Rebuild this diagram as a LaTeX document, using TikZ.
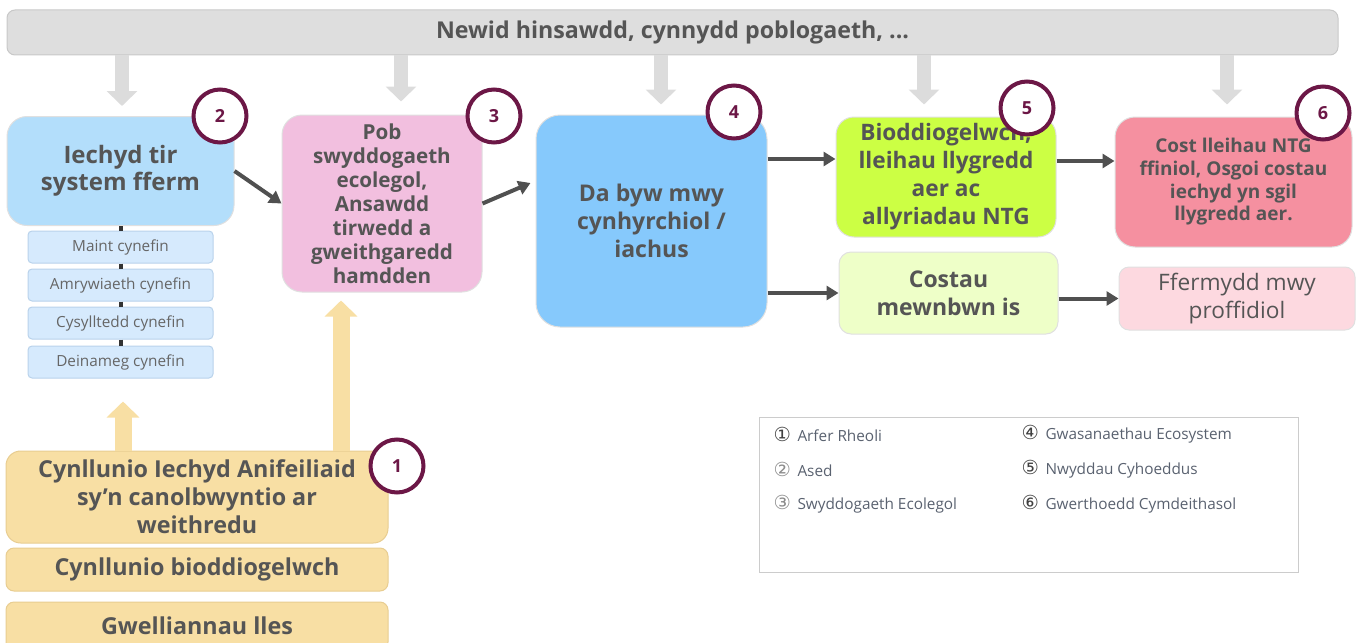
\documentclass[tikz,border=0pt]{standalone}
\usepackage{fontspec}
\setmainfont{Open Sans}
\newfontfamily\symfont{DejaVu Sans}
\usetikzlibrary{arrows.meta,calc}

\definecolor{txtgray}{RGB}{85,85,85}
\definecolor{bannerfill}{RGB}{222,222,222}
\definecolor{bannerline}{RGB}{200,200,200}
\definecolor{arrowgray}{RGB}{220,220,220}
\definecolor{connfill}{RGB}{80,80,80}
\definecolor{plum}{RGB}{108,23,70}
\definecolor{assetblue}{RGB}{179,222,251}
\definecolor{subblue}{RGB}{214,234,253}
\definecolor{subline}{RGB}{185,210,235}
\definecolor{funcpink}{RGB}{242,191,223}
\definecolor{servblue}{RGB}{134,201,252}
\definecolor{limegreen}{RGB}{204,255,68}
\definecolor{palegreen}{RGB}{238,255,200}
\definecolor{socialred}{RGB}{245,144,160}
\definecolor{palepink}{RGB}{253,217,224}
\definecolor{mgmtyellow}{RGB}{248,223,164}
\definecolor{mgmtline}{RGB}{232,205,145}
\definecolor{legtext}{RGB}{90,98,112}

\tikzset{every picture/.style={line width=0.75pt}}
\tikzset{
  box/.style={draw=black!12, text=txtgray, align=center, inner sep=0pt},
  subbox/.style={box, fill=subblue, draw=subline, rounded corners=3pt,
    minimum width=138.75pt, minimum height=24pt,
    font=\fontsize{11.5}{13}\selectfont, text=black!60},
  mgmtbox/.style={box, fill=mgmtyellow, draw=mgmtline, minimum width=286.5pt,
    font=\fontsize{17.5}{21}\selectfont\bfseries},
  numcirc/.style={circle, draw=plum, line width=3pt, fill=white, minimum size=39.75pt,
    inner sep=0pt, text=plum, font=\fontsize{13.5}{13.5}\selectfont\bfseries},
  conn/.style={draw=connfill, line width=3pt, -{Triangle[length=9pt,width=10.5pt]}},
  garrow/.style={draw=arrowgray, line width=10.5pt, -{Triangle[length=11.25pt,width=22.5pt]}},
  yarrow/.style={draw=mgmtyellow, line width=12.75pt, -{Triangle[length=12pt,width=24pt]}},
  stem/.style={draw=black!80, line width=3pt},
  legtxt/.style={anchor=west, inner sep=0pt, text=legtext, font=\fontsize{11.5}{13}\selectfont}
}
\newcommand{\lnum}[2]{{\symfont\fontsize{14.5}{14.5}\selectfont\color{#1}#2}\hspace{5pt}}

\begin{document}
\begin{tikzpicture}[x=0.75pt,y=0.75pt,yscale=-1,xscale=1]
\useasboundingbox (0,0) rectangle (1362,642);

%Top Banner
\node[box, fill=bannerfill, draw=bannerline, rounded corners=6pt, minimum width=998.25pt, minimum height=33.75pt,
  font=\fontsize{17.4}{19}\selectfont\bfseries] (banner) at (672.5,32.5) {Newid hinsawdd, cynnydd poblogaeth, ...};

%Asset
\node[box, fill=assetblue, rounded corners=15pt, minimum width=170.25pt, minimum height=81.75pt,
  font=\fontsize{18}{20.25}\selectfont\bfseries] (asset) at (120.5,171) {Iechyd tir\\system fferm};
%Habitat Boxes
\node[subbox] (maint) at (120.5,247) {Maint cynefin};
\node[subbox] (amryw) at (120.5,285) {Amrywiaeth cynefin};
\node[subbox] (cysyl) at (120.5,323) {Cysylltedd cynefin};
\node[subbox] (deinam) at (120.5,362) {Deinameg cynefin};
\draw[stem] (asset.south) -- (maint.north);
\draw[stem] (maint.south) -- (amryw.north);
\draw[stem] (amryw.south) -- (cysyl.north);
\draw[stem] (cysyl.south) -- (deinam.north);

%Ecological Function
\node[box, fill=funcpink, rounded corners=15pt, minimum width=150pt, minimum height=132.75pt,
  font=\fontsize{15.5}{18}\selectfont\bfseries] (func) at (382,203.5)
  {Pob\\swyddogaeth\\ecolegol,\\Ansawdd\\tirwedd a\\gweithgaredd\\hamdden};

%Ecosystem Service
\node[box, fill=servblue, rounded corners=18pt, minimum width=173.25pt, minimum height=159pt,
  font=\fontsize{17.25}{21}\selectfont\bfseries] (serv) at (651.5,221) {Da byw mwy\\cynhyrchiol /\\iachus};

%Public Goods
\node[box, fill=limegreen, rounded corners=13.5pt, minimum width=165pt, minimum height=90pt,
  font=\fontsize{17}{21}\selectfont\bfseries] (public) at (946,177)
  {Bioddiogelwch,\\lleihau llygredd\\aer ac\\allyriadau NTG};
\node[box, fill=palegreen, rounded corners=9pt, minimum width=164.25pt, minimum height=61.5pt,
  font=\fontsize{17.25}{21}\selectfont\bfseries] (costau) at (948.5,293) {Costau\\mewnbwn is};

%Social Values
\node[box, fill=socialred, rounded corners=15pt, minimum width=177.75pt, minimum height=97.5pt,
  font=\fontsize{14.25}{17}\selectfont\bfseries] (social) at (1233.5,182)
  {Cost lleihau NTG\\ffiniol, Osgoi costau\\iechyd yn sgil\\llygredd aer.};
\node[box, fill=palepink, rounded corners=7.5pt, minimum width=177pt, minimum height=47.25pt,
  font=\fontsize{17}{21}\selectfont] (elw) at (1237,298.5) {Ffermydd mwy\\proffidiol};

%Management
\node[mgmtbox, rounded corners=11pt, minimum height=69pt] (mgmt) at (197,497)
  {Cynllunio Iechyd Anifeiliaid\\sy’n canolbwyntio ar\\weithredu};
\node[mgmtbox, rounded corners=6pt, minimum height=32.25pt] (biosec) at (197,569.5) {Cynllunio bioddiogelwch};
\node[mgmtbox, rounded corners=6pt, minimum height=36pt] (lles) at (197,626) {Gwelliannau lles};

%Down Arrows
\coordinate (g1) at ($(asset.north)+(1.5,-10)$);
\coordinate (g2) at ($(func.north)+(19,-13)$);
\coordinate (g3) at ($(serv.north)+(9.5,-10)$);
\coordinate (g4) at ($(public.north)+(-22,-12)$);
\coordinate (g5) at ($(social.north)+(-6.5,-12)$);
\draw[garrow] (banner.south -| g1) -- (g1);
\draw[garrow] (banner.south -| g2) -- (g2);
\draw[garrow] (banner.south -| g3) -- (g3);
\draw[garrow] (banner.south -| g4) -- (g4);
\draw[garrow] (banner.south -| g5) -- (g5);

%Up Arrows
\coordinate (y1) at ($(deinam.south)+(2.5,23)$);
\coordinate (y2) at ($(func.south)+(-41,8)$);
\draw[yarrow] (mgmt.north -| y1) -- (y1);
\draw[yarrow] (mgmt.north -| y2) -- (y2);

%Connectors
\draw[conn] (asset.east) -- (func.west);
\draw[conn] (func.east) -- ($(serv.west)+(-5,-38)$);
\draw[conn] ($(serv.east)+(0,-62)$) -- ($(public.west)+(0,-18)$);
\draw[conn] (serv.east |- costau.west) -- (costau.west);
\draw[conn] ($(public.east)+(0,-16)$) -- ($(social.west)+(0,-21)$);
\draw[conn] (costau.east |- elw.west) -- (elw.west);

%Number Circles
\node[numcirc] (n1) at (397,466) {1};
\node[numcirc] (n2) at (220,116) {2};
\node[numcirc] (n3) at (494,116) {3};
\node[numcirc] (n4) at (734,112) {4};
\node[numcirc] (n5) at (1027,108) {5};
\node[numcirc] (n6) at (1323,113) {6};

%Legend
\node[box, draw=black!20, fill=white, minimum width=404.25pt, minimum height=116.25pt] (legend) at (1028.5,494.5) {};
% Text Node
\node[legtxt] (leg1) at (773,434) {\lnum{black!75}{①}Arfer Rheoli};
\node[legtxt] (leg2) at (773,469) {\lnum{black!45}{②}Ased};
\node[legtxt] (leg3) at (773,504) {\lnum{black!45}{③}Swyddogaeth Ecolegol};
\node[legtxt] (leg4) at (1021,434) {\lnum{black!75}{④}Gwasanaethau\ Ecosystem};
\node[legtxt] (leg5) at (1021,469) {\lnum{black!75}{⑤}Nwyddau Cyhoeddus};
\node[legtxt] (leg6) at (1021,504) {\lnum{black!75}{⑥}Gwerthoedd Cymdeithasol};

\end{tikzpicture}
\end{document}
